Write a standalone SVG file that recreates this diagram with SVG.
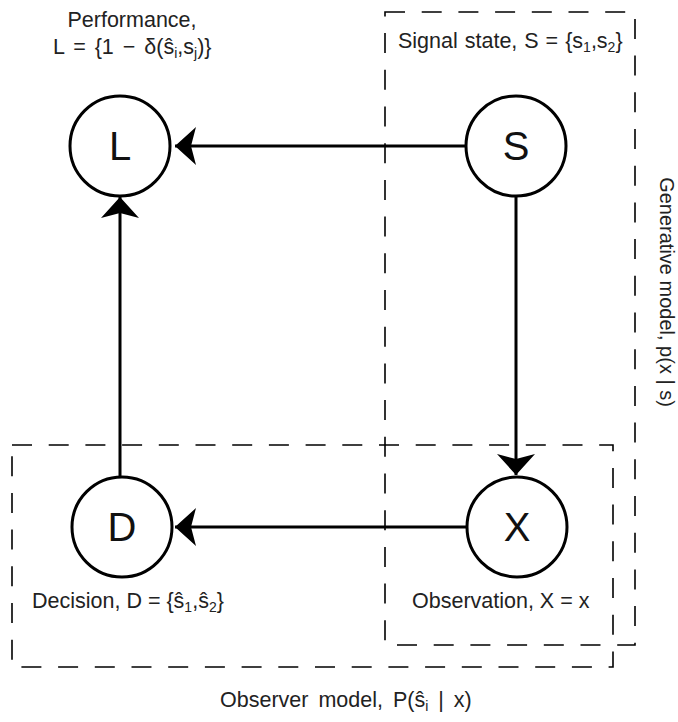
<svg xmlns="http://www.w3.org/2000/svg" width="678" height="722" viewBox="0 0 678 722">
<style>
.node circle{fill:#fff;stroke:#000;stroke-width:3}
.node text{font-family:"Liberation Sans",Arial,sans-serif;font-size:40px;fill:#111;text-anchor:middle}
.lbl{font-family:"Liberation Sans",Arial,sans-serif;font-size:21.5px;fill:#222}
.sub{font-size:14px}
.box{fill:none;stroke:#000;stroke-width:1.6;stroke-dasharray:20 16.7}
.edge{stroke:#000;stroke-width:3;fill:none}
</style>
<defs>
<marker id="ah" markerUnits="userSpaceOnUse" markerWidth="30" markerHeight="44" viewBox="-24 -22 26 44" refX="0" refY="0" orient="auto">
<path d="M0,0 L-21,-19 L-16,0 L-21,19 Z" fill="#000"/>
</marker>
</defs>
<g id="boxes">
<rect class="box" x="385" y="12" width="250" height="633"/>
<rect class="box" x="12" y="445" width="601" height="222"/>
</g>
<g id="connectors">
<line class="edge" x1="466" y1="146" x2="175" y2="146" marker-end="url(#ah)"/>
<line class="edge" x1="120" y1="477" x2="120" y2="197" marker-end="url(#ah)"/>
<line class="edge" x1="516" y1="197" x2="516" y2="475" marker-end="url(#ah)"/>
<line class="edge" x1="466" y1="527" x2="175" y2="527" marker-end="url(#ah)"/>
</g>
<g id="L" class="node"><circle cx="120" cy="146" r="50"/><text x="120" y="160">L</text></g>
<g id="S" class="node"><circle cx="516" cy="146" r="50"/><text x="516" y="160">S</text></g>
<g id="D" class="node"><circle cx="122" cy="527" r="50"/><text x="122" y="541">D</text></g>
<g id="X" class="node"><circle cx="517" cy="527" r="50"/><text x="517" y="541">X</text></g>
<g id="labels">
<text class="lbl" x="132" y="27" text-anchor="middle">Performance,</text>
<text class="lbl" x="53" y="54" word-spacing="3">L = {1 − δ(ŝ<tspan class="sub" dy="4">i</tspan><tspan dy="-4">,s</tspan><tspan class="sub" dy="4">j</tspan><tspan dy="-4">)}</tspan></text>
<text class="lbl" x="398" y="48" word-spacing="1">Signal state, S = {s<tspan class="sub" dy="4">1</tspan><tspan dy="-4">,s</tspan><tspan class="sub" dy="4">2</tspan><tspan dy="-4">}</tspan></text>
<text class="lbl" x="32" y="608">Decision, D = {ŝ<tspan class="sub" dy="4">1</tspan><tspan dy="-4">,ŝ</tspan><tspan class="sub" dy="4">2</tspan><tspan dy="-4">}</tspan></text>
<text class="lbl" x="412" y="608">Observation, X = x</text>
<text class="lbl" x="220" y="707" word-spacing="4">Observer model, P(ŝ<tspan class="sub" dy="4">i</tspan><tspan dy="-4"> | x)</tspan></text>
<text class="lbl" style="font-size:20px" transform="translate(660,292) rotate(90)" text-anchor="middle">Generative model, p(x | s)</text>
</g>
</svg>
